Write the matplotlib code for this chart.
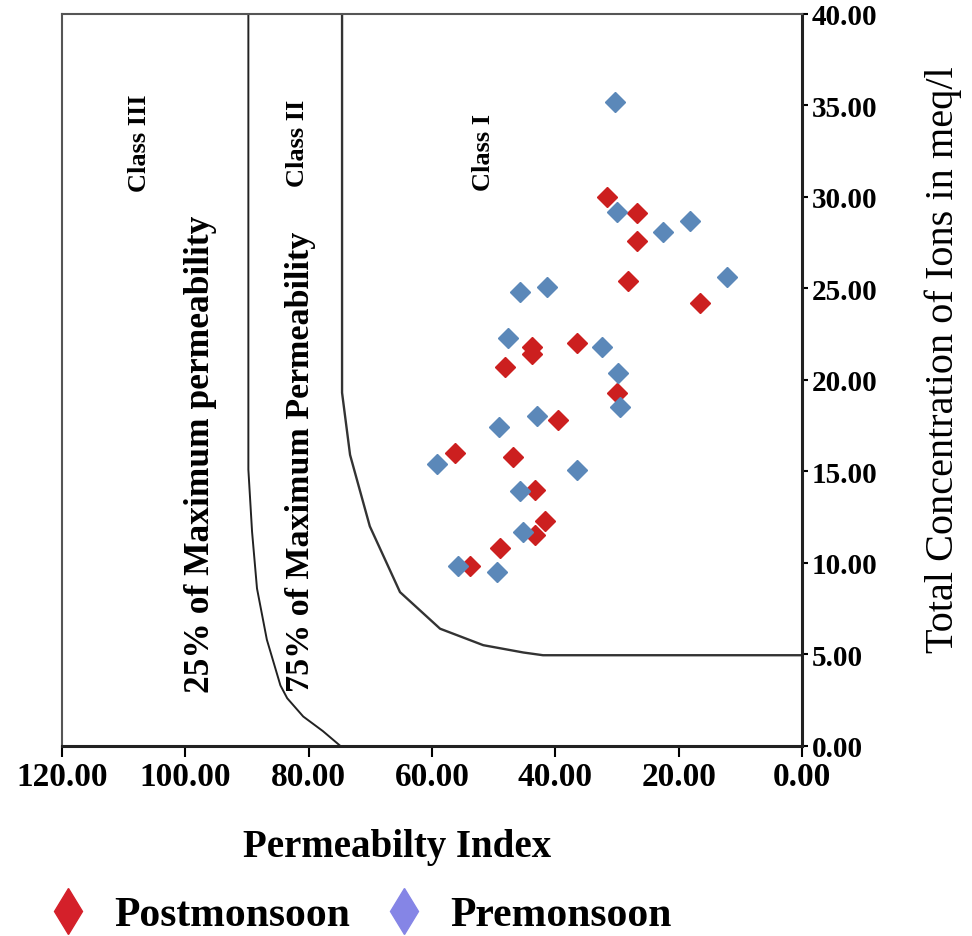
import matplotlib
matplotlib.use("Agg")
import matplotlib.pyplot as plt
from matplotlib.lines import Line2D
from matplotlib.ticker import FormatStrFormatter

plt.rcParams['font.family'] = ['Liberation Serif', 'DejaVu Serif']

# class boundary curves (permeability index, total concentration)
pi_25 = [89.8, 89.8, 89.2, 88.4, 86.8, 84.6, 83.5, 80.9, 77.7, 74.9]
tc_25 = [40.0, 15.1, 11.7, 8.6, 5.8, 3.3, 2.6, 1.6, 0.8, 0.0]
pi_75 = [74.6, 74.6, 73.3, 70.1, 65.2, 58.7, 51.7, 45.2, 42.0, 0.0]
tc_75 = [40.0, 19.3, 15.9, 12.0, 8.4, 6.4, 5.5, 5.1, 4.95, 4.95]

# samples
post_pi = [31.6, 26.8, 26.8, 28.2, 16.5, 43.8, 43.8, 36.5, 48.2, 30.0,
           39.6, 56.3, 46.9, 43.3, 41.7, 43.3, 49.0, 53.8]
post_tc = [30.0, 29.1, 27.6, 25.4, 24.2, 21.8, 21.4, 22.0, 20.7, 19.3,
           17.8, 16.0, 15.8, 14.0, 12.3, 11.5, 10.8, 9.8]
pre_pi = [30.3, 30.0, 22.5, 18.2, 12.2, 45.7, 41.4, 47.7, 32.4, 29.8,
          29.5, 43.0, 49.1, 59.2, 36.5, 45.7, 45.2, 55.8, 49.5]
pre_tc = [35.2, 29.2, 28.1, 28.7, 25.6, 24.8, 25.1, 22.3, 21.8, 20.4,
          18.5, 18.0, 17.4, 15.4, 15.1, 13.9, 11.7, 9.8, 9.5]

fig = plt.figure(figsize=(9.72, 9.37), dpi=100)
ax = fig.add_axes([0.064, 0.203, 0.761, 0.781])

ax.plot(pi_25, tc_25, color='#222222', lw=1.4)
ax.plot(pi_75, tc_75, color='#333333', lw=1.7)

ax.plot(post_pi, post_tc, 'D', ms=10.5, color='#cc1f1f', mec='#cc1f1f', ls='none')
ax.plot(pre_pi, pre_tc, 'D', ms=10.5, color='#5b88b9', mec='#5b88b9', ls='none')

ax.text(107.4, 33.0, 'Class III', rotation=90, ha='center', va='center',
        fontsize=19, fontweight='bold')
ax.text(81.9, 33.0, 'Class II', rotation=90, ha='center', va='center',
        fontsize=19, fontweight='bold')
ax.text(51.7, 32.5, 'Class I', rotation=90, ha='center', va='center',
        fontsize=19, fontweight='bold')
ax.text(97.5, 16.0, '25% of Maximum permeability', rotation=90, ha='center',
        va='center', fontsize=25.5, fontweight='bold')
ax.text(81.4, 15.6, '75% of Maximum Permeability', rotation=90, ha='center',
        va='center', fontsize=24.5, fontweight='bold')

ax.set_xlim(120, 0)
ax.set_ylim(0, 40)
ax.set_xticks([120, 100, 80, 60, 40, 20, 0])
ax.set_yticks(range(0, 41, 5))
ax.xaxis.set_major_formatter(FormatStrFormatter('%.2f'))
ax.yaxis.set_major_formatter(FormatStrFormatter('%.2f'))
ax.yaxis.tick_right()
ax.yaxis.set_label_position('right')
ax.tick_params(axis='x', direction='out', length=8, width=1.5, labelsize=24, pad=3)
ax.tick_params(axis='y', direction='out', length=4, width=1.5, labelsize=21, pad=3)
for lab in ax.get_xticklabels() + ax.get_yticklabels():
    lab.set_fontweight('bold')

for side in ['left', 'top']:
    ax.spines[side].set_color('#555555')
    ax.spines[side].set_linewidth(1.5)
for side in ['bottom', 'right']:
    ax.spines[side].set_color('#222222')
    ax.spines[side].set_linewidth(2.2)

ax.set_xlabel('Permeabilty Index', fontsize=28, fontweight='bold')
ax.xaxis.set_label_coords(0.453, -0.112)
ax.set_ylabel('Total Concentration of Ions in meq/l', fontsize=29)
ax.yaxis.set_label_coords(1.166, 0.529)

handles = [
    Line2D([], [], marker='d', ls='none', ms=23, color='#d4202a', label='Postmonsoon'),
    Line2D([], [], marker='d', ls='none', ms=23, color='#8585e6', label='Premonsoon'),
]
fig.legend(handles=handles, loc='lower left', bbox_to_anchor=(0.01, -0.038), ncol=2,
           frameon=False, prop={'size': 30, 'weight': 'bold'}, handlelength=1.0,
           handletextpad=0.6, columnspacing=0.8)

fig.savefig('out.png', dpi=100)
